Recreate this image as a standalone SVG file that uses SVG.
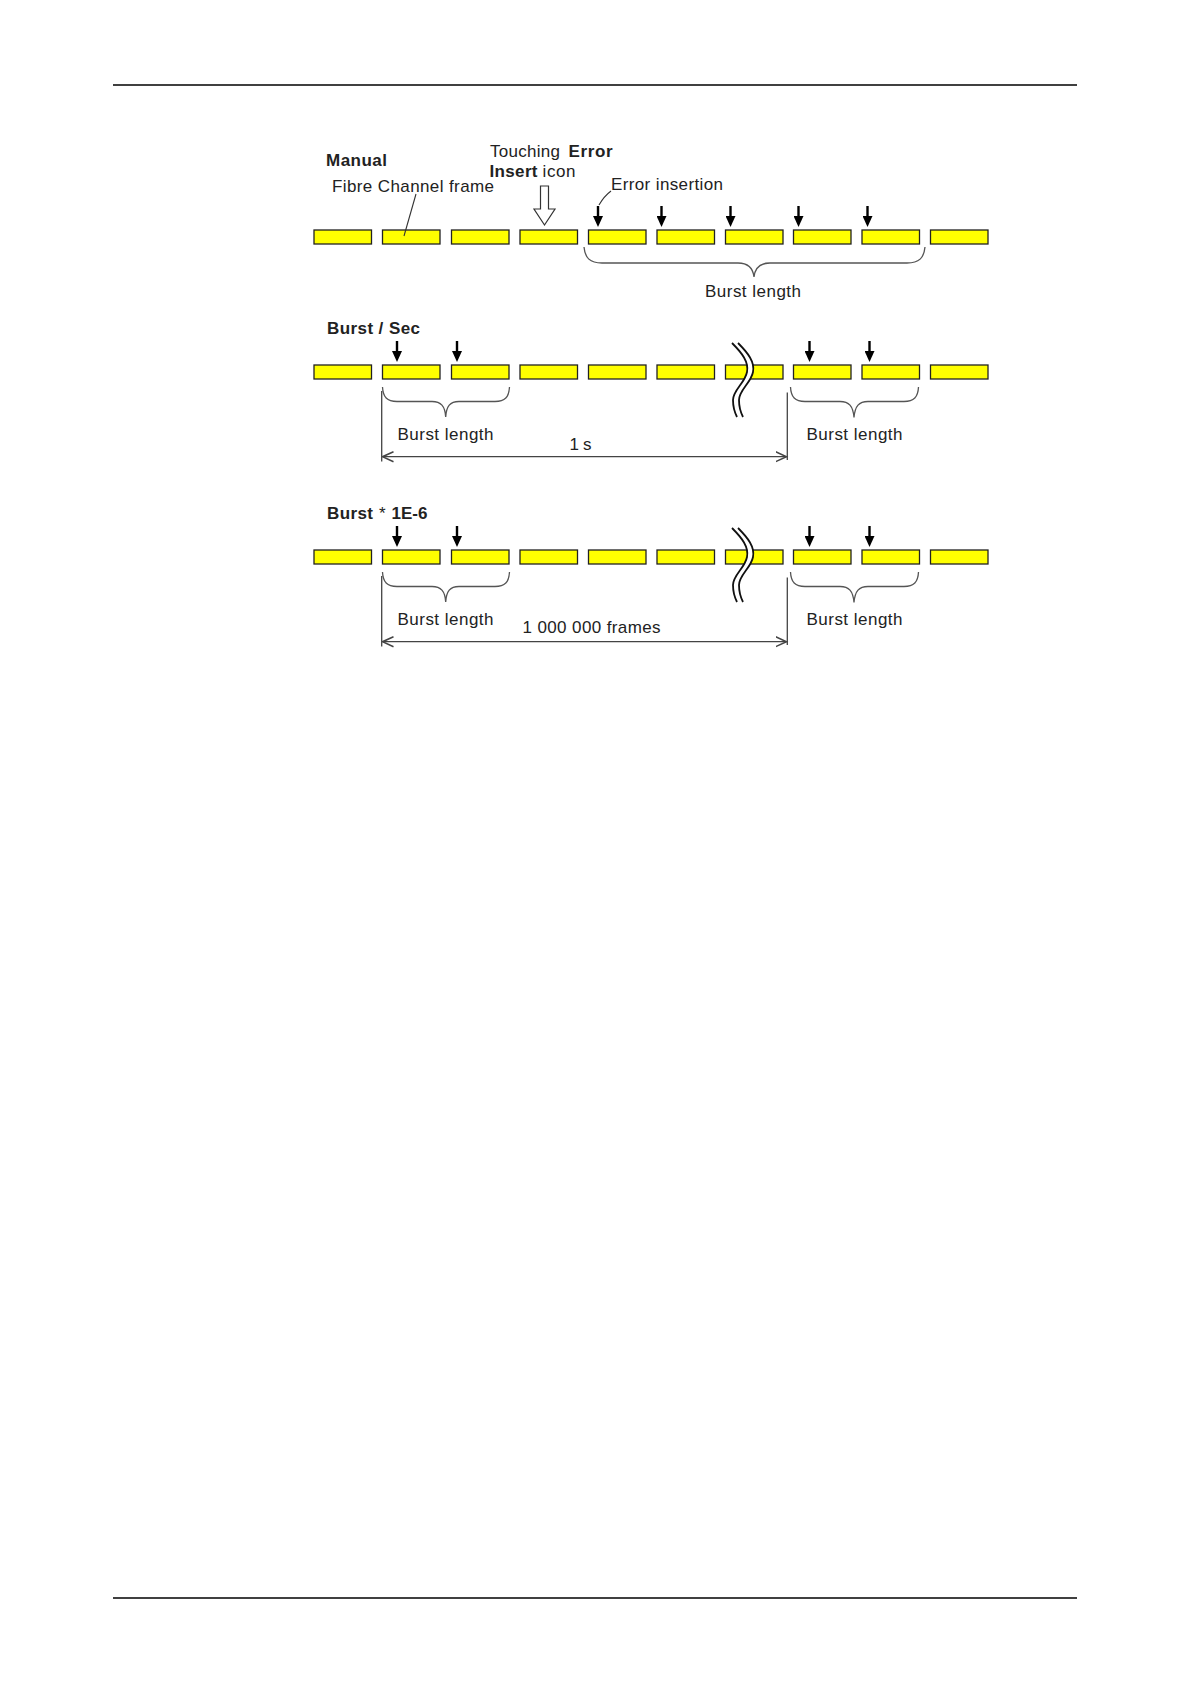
<svg xmlns="http://www.w3.org/2000/svg" width="1190" height="1684" viewBox="0 0 1190 1684">
<style>
  .frame { fill: #ffff00; stroke: #222; stroke-width: 1.3; }
  .t { font-family: "Liberation Sans", Arial, sans-serif; font-size: 17px; fill: #222; }
  .b { font-weight: bold; }
  .rule { stroke: #000; stroke-width: 1.5; }
  .err { stroke: #000; stroke-width: 2.4; fill: none; }
  .thin { stroke: #333; stroke-width: 1.1; fill: none; }
  .brace { stroke: #555; stroke-width: 1.3; fill: none; }
  .dim { stroke: #444; stroke-width: 1.3; fill: none; }
  .brk { stroke: #111; stroke-width: 1.8; fill: none; }
  .gap { stroke: #fff; stroke-width: 5; fill: none; }
</style>
<defs>
  <marker id="ah" markerUnits="userSpaceOnUse" markerWidth="12" markerHeight="10" refX="7" refY="5" orient="auto">
    <path d="M0,0 L11,5 L0,10 z" fill="#000"/>
  </marker>
  <marker id="dimEnd" markerUnits="userSpaceOnUse" markerWidth="14" markerHeight="12" refX="11" refY="6" orient="auto">
    <path d="M0,1 L11,6 L0,11" fill="none" stroke="#444" stroke-width="1.5"/>
  </marker>
  <marker id="dimStart" markerUnits="userSpaceOnUse" markerWidth="14" markerHeight="12" refX="1" refY="6" orient="auto">
    <path d="M12,1 L1,6 L12,11" fill="none" stroke="#444" stroke-width="1.5"/>
  </marker>
</defs>
<rect width="1190" height="1684" fill="#fff"/>

<g id="page-rules">
  <line class="rule" x1="113" y1="85" x2="1077" y2="85"/>
  <line class="rule" x1="113" y1="1598" x2="1077" y2="1598"/>
</g>

<!-- Row 1: Manual -->
<g id="row-manual">
  <g id="m-f0"><rect class="frame" x="314" y="230" width="57.5" height="14"/></g>
  <g id="m-f1"><rect class="frame" x="382.5" y="230" width="57.5" height="14"/></g>
  <g id="m-f2"><rect class="frame" x="451.5" y="230" width="57.5" height="14"/></g>
  <g id="m-f3"><rect class="frame" x="520" y="230" width="57.5" height="14"/></g>
  <g id="m-f4"><rect class="frame" x="588.5" y="230" width="57.5" height="14"/></g>
  <g id="m-f5"><rect class="frame" x="657" y="230" width="57.5" height="14"/></g>
  <g id="m-f6"><rect class="frame" x="725.5" y="230" width="57.5" height="14"/></g>
  <g id="m-f7"><rect class="frame" x="793.5" y="230" width="57.5" height="14"/></g>
  <g id="m-f8"><rect class="frame" x="862" y="230" width="57.5" height="14"/></g>
  <g id="m-f9"><rect class="frame" x="930.5" y="230" width="57.5" height="14"/></g>
  <g id="m-title"><text class="t b" x="326" y="166" textLength="61" lengthAdjust="spacing">Manual</text></g>
  <g id="m-fc-label"><text class="t" x="332" y="192" textLength="162" lengthAdjust="spacing">Fibre Channel frame</text></g>
  <g id="m-touch-label">
    <text class="t" x="490" y="157" textLength="70" lengthAdjust="spacing">Touching</text>
    <text class="t b" x="568.5" y="157" textLength="44" lengthAdjust="spacing">Error</text>
    <text class="t b" x="489.5" y="177" textLength="48" lengthAdjust="spacing">Insert</text>
    <text class="t" x="542.5" y="177" textLength="33" lengthAdjust="spacing">icon</text>
  </g>
  <g id="m-err-label"><text class="t" x="611" y="190" textLength="112" lengthAdjust="spacing">Error insertion</text></g>
  <g id="m-burst-label"><text class="t" x="705" y="297" textLength="96" lengthAdjust="spacing">Burst length</text></g>
  <g id="m-touch-icon">
    <polygon points="540.5,186 548.5,186 548.5,209 555,209 544.5,225 534,209 540.5,209" fill="#fff" stroke="#333" stroke-width="1.2"/>
  </g>
</g>

<!-- Row 2: Burst / Sec -->
<g id="row-burst-sec">
  <g id="s-f0"><rect class="frame" x="314" y="365" width="57.5" height="14"/></g>
  <g id="s-f1"><rect class="frame" x="382.5" y="365" width="57.5" height="14"/></g>
  <g id="s-f2"><rect class="frame" x="451.5" y="365" width="57.5" height="14"/></g>
  <g id="s-f3"><rect class="frame" x="520" y="365" width="57.5" height="14"/></g>
  <g id="s-f4"><rect class="frame" x="588.5" y="365" width="57.5" height="14"/></g>
  <g id="s-f5"><rect class="frame" x="657" y="365" width="57.5" height="14"/></g>
  <g id="s-f6"><rect class="frame" x="725.5" y="365" width="57.5" height="14"/></g>
  <g id="s-f7"><rect class="frame" x="793.5" y="365" width="57.5" height="14"/></g>
  <g id="s-f8"><rect class="frame" x="862" y="365" width="57.5" height="14"/></g>
  <g id="s-f9"><rect class="frame" x="930.5" y="365" width="57.5" height="14"/></g>
  <g id="s-break">
    <path class="gap" d="M735,343 C745,353 752,362 750,372 C748,383 736,390 736,400 C736,408 738,413 740,417"/>
    <path class="brk" d="M732,343 C742,353 749,362 747,372 C745,383 733,390 733,400 C733,408 735,413 737,417"/>
    <path class="brk" d="M738,343 C748,353 755,362 753,372 C751,383 739,390 739,400 C739,408 741,413 743,417"/>
  </g>
  <g id="s-title"><text class="t b" x="327" y="334" textLength="93" lengthAdjust="spacing">Burst / Sec</text></g>
  <g id="s-burst-l"><text class="t" x="397.5" y="440" textLength="96" lengthAdjust="spacing">Burst length</text></g>
  <g id="s-burst-r"><text class="t" x="806.5" y="440" textLength="96" lengthAdjust="spacing">Burst length</text></g>
  <g id="s-1s"><text class="t" x="569.5" y="450" textLength="22" lengthAdjust="spacing">1 s</text></g>
</g>

<!-- Row 3: Burst * 1E-6 -->
<g id="row-burst-1e6">
  <g id="e-f0"><rect class="frame" x="314" y="550" width="57.5" height="14"/></g>
  <g id="e-f1"><rect class="frame" x="382.5" y="550" width="57.5" height="14"/></g>
  <g id="e-f2"><rect class="frame" x="451.5" y="550" width="57.5" height="14"/></g>
  <g id="e-f3"><rect class="frame" x="520" y="550" width="57.5" height="14"/></g>
  <g id="e-f4"><rect class="frame" x="588.5" y="550" width="57.5" height="14"/></g>
  <g id="e-f5"><rect class="frame" x="657" y="550" width="57.5" height="14"/></g>
  <g id="e-f6"><rect class="frame" x="725.5" y="550" width="57.5" height="14"/></g>
  <g id="e-f7"><rect class="frame" x="793.5" y="550" width="57.5" height="14"/></g>
  <g id="e-f8"><rect class="frame" x="862" y="550" width="57.5" height="14"/></g>
  <g id="e-f9"><rect class="frame" x="930.5" y="550" width="57.5" height="14"/></g>
  <g id="e-break">
    <path class="gap" d="M735,528 C745,538 752,547 750,557 C748,568 736,575 736,585 C736,593 738,598 740,602"/>
    <path class="brk" d="M732,528 C742,538 749,547 747,557 C745,568 733,575 733,585 C733,593 735,598 737,602"/>
    <path class="brk" d="M738,528 C748,538 755,547 753,557 C751,568 739,575 739,585 C739,593 741,598 743,602"/>
  </g>
  <g id="e-title">
    <text class="t b" x="327" y="519" textLength="46" lengthAdjust="spacing">Burst</text>
    <text class="t" x="379" y="519">*</text>
    <text class="t b" x="391.5" y="519">1E-6</text>
  </g>
  <g id="e-burst-l"><text class="t" x="397.5" y="624.5" textLength="96" lengthAdjust="spacing">Burst length</text></g>
  <g id="e-burst-r"><text class="t" x="806.5" y="624.5" textLength="96" lengthAdjust="spacing">Burst length</text></g>
  <g id="e-1m"><text class="t" x="522.5" y="633" textLength="138" lengthAdjust="spacing">1 000 000 frames</text></g>
</g>

<g id="connectors">
  <!-- leaders -->
  <line class="thin" x1="416" y1="194" x2="404" y2="236"/>
  <path class="thin" d="M599,205 C603,198 607,194 611,191"/>
  <!-- error insertion arrows row 1 -->
  <line class="err" x1="598" y1="206" x2="598" y2="223" marker-end="url(#ah)"/>
  <line class="err" x1="661.5" y1="206" x2="661.5" y2="223" marker-end="url(#ah)"/>
  <line class="err" x1="730.5" y1="206" x2="730.5" y2="223" marker-end="url(#ah)"/>
  <line class="err" x1="798.5" y1="206" x2="798.5" y2="223" marker-end="url(#ah)"/>
  <line class="err" x1="867.5" y1="206" x2="867.5" y2="223" marker-end="url(#ah)"/>
  <!-- row 2 arrows -->
  <line class="err" x1="397" y1="341" x2="397" y2="358" marker-end="url(#ah)"/>
  <line class="err" x1="457" y1="341" x2="457" y2="358" marker-end="url(#ah)"/>
  <line class="err" x1="809.5" y1="341" x2="809.5" y2="358" marker-end="url(#ah)"/>
  <line class="err" x1="869.5" y1="341" x2="869.5" y2="358" marker-end="url(#ah)"/>
  <!-- row 3 arrows -->
  <line class="err" x1="397" y1="526" x2="397" y2="543" marker-end="url(#ah)"/>
  <line class="err" x1="457" y1="526" x2="457" y2="543" marker-end="url(#ah)"/>
  <line class="err" x1="809.5" y1="526" x2="809.5" y2="543" marker-end="url(#ah)"/>
  <line class="err" x1="869.5" y1="526" x2="869.5" y2="543" marker-end="url(#ah)"/>
  <!-- braces -->
  <path class="brace" d="M584,247 C585,258 590,263 602,263 L738,263 C748,263 753,268 754,277 C755,268 760,263 770,263 L907,263 C919,263 924,258 925,247"/>
  <path class="brace" d="M382.5,387 C383,397 387,401.5 397,401.5 L432,401.5 C441,401.5 445,406 445.7,417 C446.4,406 450,401.5 459,401.5 L495,401.5 C505,401.5 509,397 509.5,387"/>
  <path class="brace" d="M790.5,387 C791,397 795,401.5 805,401.5 L840,401.5 C849,401.5 853,406 854,417.5 C855,406 859,401.5 868,401.5 L904,401.5 C914,401.5 918,397 918.5,387"/>
  <path class="brace" d="M382.5,572 C383,582 387,586.5 397,586.5 L432,586.5 C441,586.5 445,591 445.7,602 C446.4,591 450,586.5 459,586.5 L495,586.5 C505,586.5 509,582 509.5,572"/>
  <path class="brace" d="M790.5,572 C791,582 795,586.5 805,586.5 L840,586.5 C849,586.5 853,591 854,602.5 C855,591 859,586.5 868,586.5 L904,586.5 C914,586.5 918,582 918.5,572"/>
  <!-- dimension lines row 2 -->
  <line class="dim" x1="381.7" y1="391" x2="381.7" y2="461.5"/>
  <line class="dim" x1="787.3" y1="392.5" x2="787.3" y2="460"/>
  <line class="dim" x1="382.5" y1="456.7" x2="786.5" y2="456.7" marker-start="url(#dimStart)" marker-end="url(#dimEnd)"/>
  <!-- dimension lines row 3 -->
  <line class="dim" x1="381.7" y1="576" x2="381.7" y2="646.5"/>
  <line class="dim" x1="787.3" y1="577.5" x2="787.3" y2="645"/>
  <line class="dim" x1="382.5" y1="641.7" x2="786.5" y2="641.7" marker-start="url(#dimStart)" marker-end="url(#dimEnd)"/>
</g>
</svg>
